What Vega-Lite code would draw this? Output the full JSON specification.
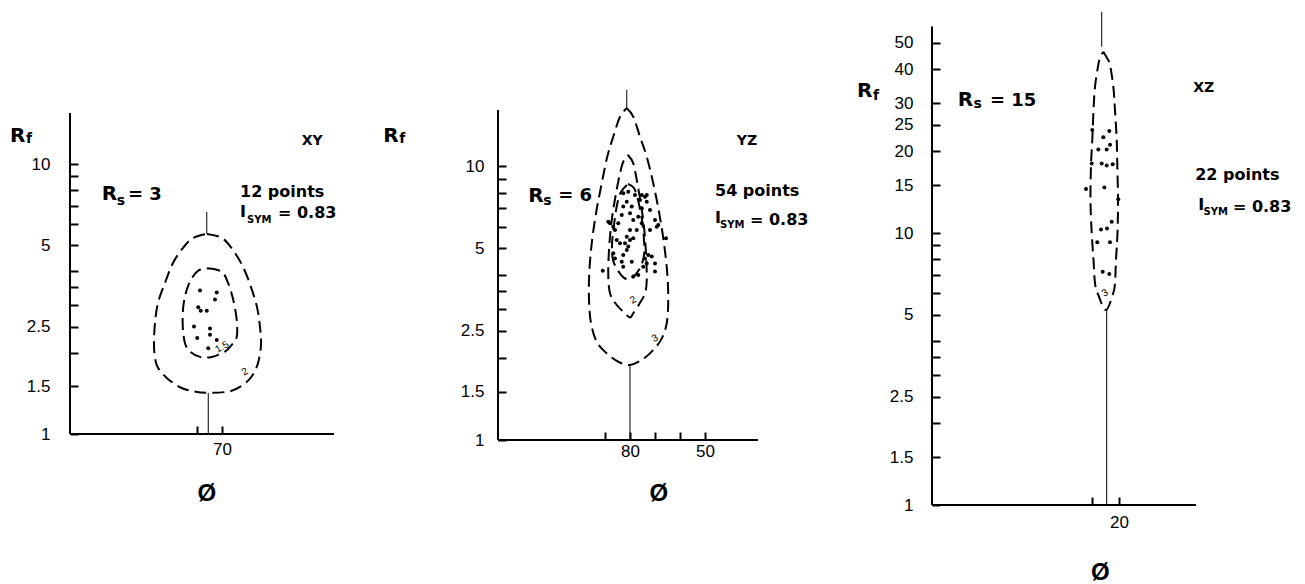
{
"$schema": "https://vega.github.io/schema/vega-lite/v6.json",
"background": "white",
"padding": {"left": 10, "top": 10, "right": 0, "bottom": 0},
"spacing": 0,
"bounds": "flush",
"config": {"view": {"stroke": null}},
"datasets": {
"vaxis": [{"p":1,"phi":130.8,"rf":1,"rf2":15.45},{"p":2,"phi":132.8,"rf":1,"rf2":16.01},{"p":3,"phi":89.26,"rf":1,"rf2":57.4}],
"haxis": [{"p":1,"rf":1,"phi":130.8,"phi2":25.2},{"p":2,"rf":1,"phi":132.8,"phi2":28.8},{"p":3,"rf":1,"phi":89.26,"phi2":-8.52}],
"olines": [{"p":1,"phi":76.1,"rf":5.51,"rf2":6.64},{"p":1,"phi":75.5,"rf":1,"rf2":1.42},{"p":2,"phi":81.3,"rf":16.24,"rf2":18.94},{"p":2,"phi":80.0,"rf":1,"rf2":1.88},{"p":3,"phi":26.4,"rf":48.4,"rf2":65.1},{"p":3,"phi":24.56,"rf":1,"rf2":5.21}],
"contours": [
{"p":1,"c":"a","i":0,"phi":76.0,"rf":5.51},{"p":1,"c":"a","i":1,"phi":70.0,"rf":5.32},{"p":1,"c":"a","i":2,"phi":65.6,"rf":4.80},{"p":1,"c":"a","i":3,"phi":61.6,"rf":4.16},{"p":1,"c":"a","i":4,"phi":58.4,"rf":3.50},{"p":1,"c":"a","i":5,"phi":56.0,"rf":2.95},{"p":1,"c":"a","i":6,"phi":54.8,"rf":2.49},{"p":1,"c":"a","i":7,"phi":54.4,"rf":2.14},{"p":1,"c":"a","i":8,"phi":55.6,"rf":1.83},{"p":1,"c":"a","i":9,"phi":58.0,"rf":1.64},{"p":1,"c":"a","i":10,"phi":61.6,"rf":1.52},{"p":1,"c":"a","i":11,"phi":66.8,"rf":1.44},{"p":1,"c":"a","i":12,"phi":75.6,"rf":1.42},{"p":1,"c":"a","i":13,"phi":81.6,"rf":1.44},{"p":1,"c":"a","i":14,"phi":86.8,"rf":1.49},{"p":1,"c":"a","i":15,"phi":92.0,"rf":1.61},{"p":1,"c":"a","i":16,"phi":95.6,"rf":1.76},{"p":1,"c":"a","i":17,"phi":96.8,"rf":1.91},{"p":1,"c":"a","i":18,"phi":97.2,"rf":2.17},{"p":1,"c":"a","i":19,"phi":96.8,"rf":2.58},{"p":1,"c":"a","i":20,"phi":95.6,"rf":3.06},{"p":1,"c":"a","i":21,"phi":92.8,"rf":3.63},{"p":1,"c":"a","i":22,"phi":89.6,"rf":4.30},{"p":1,"c":"a","i":23,"phi":85.6,"rf":4.89},{"p":1,"c":"a","i":24,"phi":81.6,"rf":5.32},{"p":1,"c":"a","i":25,"phi":76.0,"rf":5.51},
{"p":1,"c":"b","i":0,"phi":75.5,"rf":4.11},{"p":1,"c":"b","i":1,"phi":70.1,"rf":3.99},{"p":1,"c":"b","i":2,"phi":67.5,"rf":3.61},{"p":1,"c":"b","i":3,"phi":65.5,"rf":3.14},{"p":1,"c":"b","i":4,"phi":64.1,"rf":2.64},{"p":1,"c":"b","i":5,"phi":64.1,"rf":2.29},{"p":1,"c":"b","i":6,"phi":66.1,"rf":2.14},{"p":1,"c":"b","i":7,"phi":68.8,"rf":2.02},{"p":1,"c":"b","i":8,"phi":74.1,"rf":1.93},{"p":1,"c":"b","i":9,"phi":78.8,"rf":1.93},{"p":1,"c":"b","i":10,"phi":82.8,"rf":2.02},{"p":1,"c":"b","i":11,"phi":84.8,"rf":2.17},{"p":1,"c":"b","i":12,"phi":85.7,"rf":2.50},{"p":1,"c":"b","i":13,"phi":85.5,"rf":2.96},{"p":1,"c":"b","i":14,"phi":84.1,"rf":3.42},{"p":1,"c":"b","i":15,"phi":82.1,"rf":3.77},{"p":1,"c":"b","i":16,"phi":79.5,"rf":4.03},{"p":1,"c":"b","i":17,"phi":75.5,"rf":4.11},
{"p":2,"c":"a","i":0,"phi":81.3,"rf":16.24},{"p":2,"c":"a","i":1,"phi":78.7,"rf":15.13},{"p":2,"c":"a","i":2,"phi":76.0,"rf":12.79},{"p":2,"c":"a","i":3,"phi":73.3,"rf":10.81},{"p":2,"c":"a","i":4,"phi":70.7,"rf":8.65},{"p":2,"c":"a","i":5,"phi":68.3,"rf":6.72},{"p":2,"c":"a","i":6,"phi":66.4,"rf":5.22},{"p":2,"c":"a","i":7,"phi":65.1,"rf":4.06},{"p":2,"c":"a","i":8,"phi":64.7,"rf":3.24},{"p":2,"c":"a","i":9,"phi":65.3,"rf":2.67},{"p":2,"c":"a","i":10,"phi":67.3,"rf":2.35},{"p":2,"c":"a","i":11,"phi":70.7,"rf":2.13},{"p":2,"c":"a","i":12,"phi":75.3,"rf":1.96},{"p":2,"c":"a","i":13,"phi":80.0,"rf":1.88},{"p":2,"c":"a","i":14,"phi":84.7,"rf":1.93},{"p":2,"c":"a","i":15,"phi":89.3,"rf":2.07},{"p":2,"c":"a","i":16,"phi":93.3,"rf":2.28},{"p":2,"c":"a","i":17,"phi":95.6,"rf":2.67},{"p":2,"c":"a","i":18,"phi":96.4,"rf":3.24},{"p":2,"c":"a","i":19,"phi":96.3,"rf":4.06},{"p":2,"c":"a","i":20,"phi":95.3,"rf":5.22},{"p":2,"c":"a","i":21,"phi":93.6,"rf":6.72},{"p":2,"c":"a","i":22,"phi":91.3,"rf":8.65},{"p":2,"c":"a","i":23,"phi":89.1,"rf":10.81},{"p":2,"c":"a","i":24,"phi":86.7,"rf":12.79},{"p":2,"c":"a","i":25,"phi":84.0,"rf":15.13},{"p":2,"c":"a","i":26,"phi":81.3,"rf":16.24},
{"p":2,"c":"b","i":0,"phi":80.8,"rf":10.97},{"p":2,"c":"b","i":1,"phi":78.7,"rf":10.23},{"p":2,"c":"b","i":2,"phi":77.3,"rf":8.89},{"p":2,"c":"b","i":3,"phi":75.7,"rf":7.31},{"p":2,"c":"b","i":4,"phi":74.4,"rf":6.00},{"p":2,"c":"b","i":5,"phi":73.6,"rf":4.80},{"p":2,"c":"b","i":6,"phi":73.3,"rf":3.84},{"p":2,"c":"b","i":7,"phi":74.0,"rf":3.43},{"p":2,"c":"b","i":8,"phi":76.0,"rf":3.17},{"p":2,"c":"b","i":9,"phi":78.7,"rf":2.90},{"p":2,"c":"b","i":10,"phi":80.0,"rf":2.80},{"p":2,"c":"b","i":11,"phi":82.0,"rf":2.90},{"p":2,"c":"b","i":12,"phi":85.3,"rf":3.11},{"p":2,"c":"b","i":13,"phi":88.0,"rf":3.43},{"p":2,"c":"b","i":14,"phi":88.7,"rf":4.06},{"p":2,"c":"b","i":15,"phi":88.3,"rf":5.08},{"p":2,"c":"b","i":16,"phi":87.3,"rf":6.35},{"p":2,"c":"b","i":17,"phi":85.6,"rf":7.95},{"p":2,"c":"b","i":18,"phi":84.0,"rf":9.40},{"p":2,"c":"b","i":19,"phi":82.7,"rf":10.37},{"p":2,"c":"b","i":20,"phi":80.8,"rf":10.97},
{"p":2,"c":"c","i":0,"phi":80.8,"rf":8.60},{"p":2,"c":"c","i":1,"phi":78.4,"rf":8.31},{"p":2,"c":"c","i":2,"phi":76.8,"rf":7.51},{"p":2,"c":"c","i":3,"phi":75.2,"rf":6.35},{"p":2,"c":"c","i":4,"phi":74.4,"rf":5.37},{"p":2,"c":"c","i":5,"phi":74.4,"rf":4.73},{"p":2,"c":"c","i":6,"phi":76.0,"rf":4.24},{"p":2,"c":"c","i":7,"phi":79.2,"rf":3.90},{"p":2,"c":"c","i":8,"phi":81.6,"rf":3.87},{"p":2,"c":"c","i":9,"phi":84.4,"rf":4.10},{"p":2,"c":"c","i":10,"phi":86.8,"rf":4.54},{"p":2,"c":"c","i":11,"phi":87.2,"rf":5.15},{"p":2,"c":"c","i":12,"phi":86.4,"rf":6.09},{"p":2,"c":"c","i":13,"phi":85.2,"rf":7.21},{"p":2,"c":"c","i":14,"phi":83.6,"rf":8.04},{"p":2,"c":"c","i":15,"phi":80.8,"rf":8.60},
{"p":3,"c":"a","i":0,"phi":25.81,"rf":46.4},{"p":3,"c":"a","i":1,"phi":24.44,"rf":44.0},{"p":3,"c":"a","i":2,"phi":23.33,"rf":41.5},{"p":3,"c":"a","i":3,"phi":22.11,"rf":34.5},{"p":3,"c":"a","i":4,"phi":21.48,"rf":28.3},{"p":3,"c":"a","i":5,"phi":20.85,"rf":22.0},{"p":3,"c":"a","i":6,"phi":20.63,"rf":17.8},{"p":3,"c":"a","i":7,"phi":20.37,"rf":13.2},{"p":3,"c":"a","i":8,"phi":20.56,"rf":10.0},{"p":3,"c":"a","i":9,"phi":21.11,"rf":7.96},{"p":3,"c":"a","i":10,"phi":21.48,"rf":6.55},{"p":3,"c":"a","i":11,"phi":22.11,"rf":6.02},{"p":3,"c":"a","i":12,"phi":24.81,"rf":5.21},{"p":3,"c":"a","i":13,"phi":27.67,"rf":5.92},{"p":3,"c":"a","i":14,"phi":28.89,"rf":6.55},{"p":3,"c":"a","i":15,"phi":29.44,"rf":7.96},{"p":3,"c":"a","i":16,"phi":30.11,"rf":10.0},{"p":3,"c":"a","i":17,"phi":30.56,"rf":13.2},{"p":3,"c":"a","i":18,"phi":30.37,"rf":17.8},{"p":3,"c":"a","i":19,"phi":29.89,"rf":22.0},{"p":3,"c":"a","i":20,"phi":29.44,"rf":28.3},{"p":3,"c":"a","i":21,"phi":28.89,"rf":34.5},{"p":3,"c":"a","i":22,"phi":27.67,"rf":41.5},{"p":3,"c":"a","i":23,"phi":27.04,"rf":44.0},{"p":3,"c":"a","i":24,"phi":25.81,"rf":46.4}
],
"points": [
{"p":1,"phi":78.8,"rf":3.40},{"p":1,"phi":72.1,"rf":3.34},{"p":1,"phi":72.8,"rf":3.15},{"p":1,"phi":79.5,"rf":2.95},{"p":1,"phi":78.5,"rf":2.86},{"p":1,"phi":76.1,"rf":2.86},{"p":1,"phi":81.2,"rf":2.50},{"p":1,"phi":74.8,"rf":2.46},{"p":1,"phi":79.9,"rf":2.27},{"p":1,"phi":74.8,"rf":2.33},{"p":1,"phi":72.1,"rf":2.23},{"p":1,"phi":75.5,"rf":2.08},
{"p":2,"phi":90.9,"rf":4.15},{"p":2,"phi":65.6,"rf":5.45},{"p":2,"phi":70.0,"rf":4.41},{"p":2,"phi":70.0,"rf":4.12},{"p":2,"phi":72.7,"rf":4.73},{"p":2,"phi":74.0,"rf":4.60},{"p":2,"phi":74.7,"rf":4.29},{"p":2,"phi":76.7,"rf":4.00},{"p":2,"phi":78.7,"rf":3.95},{"p":2,"phi":82.7,"rf":4.29},{"p":2,"phi":83.3,"rf":4.47},{"p":2,"phi":82.7,"rf":4.73},{"p":2,"phi":81.3,"rf":4.94},{"p":2,"phi":80.7,"rf":5.08},{"p":2,"phi":82.0,"rf":5.22},{"p":2,"phi":80.0,"rf":5.37},{"p":2,"phi":78.7,"rf":5.45},{"p":2,"phi":81.3,"rf":5.52},{"p":2,"phi":86.0,"rf":5.84},{"p":2,"phi":86.7,"rf":6.00},{"p":2,"phi":88.7,"rf":6.26},{"p":2,"phi":88.0,"rf":6.18},{"p":2,"phi":84.7,"rf":6.18},{"p":2,"phi":83.3,"rf":6.63},{"p":2,"phi":82.7,"rf":7.11},{"p":2,"phi":80.0,"rf":6.72},{"p":2,"phi":79.3,"rf":7.11},{"p":2,"phi":81.3,"rf":7.41},{"p":2,"phi":82.7,"rf":7.95},{"p":2,"phi":80.7,"rf":8.06},{"p":2,"phi":76.0,"rf":7.51},{"p":2,"phi":75.3,"rf":7.84},{"p":2,"phi":74.0,"rf":7.73},{"p":2,"phi":73.3,"rf":7.41},{"p":2,"phi":72.0,"rf":6.91},{"p":2,"phi":75.3,"rf":7.01},{"p":2,"phi":76.7,"rf":6.53},{"p":2,"phi":78.7,"rf":6.35},{"p":2,"phi":77.3,"rf":5.84},{"p":2,"phi":80.0,"rf":5.84},{"p":2,"phi":72.0,"rf":5.84},{"p":2,"phi":69.3,"rf":6.00},{"p":2,"phi":70.0,"rf":6.35},{"p":2,"phi":84.0,"rf":5.22},{"p":2,"phi":85.3,"rf":5.37},{"p":2,"phi":86.7,"rf":4.80},{"p":2,"phi":86.0,"rf":4.60},{"p":2,"phi":68.7,"rf":6.09},{"p":2,"phi":78.0,"rf":7.84},{"p":2,"phi":73.3,"rf":7.84},{"p":2,"phi":75.3,"rf":6.18},{"p":2,"phi":79.3,"rf":4.47},{"p":2,"phi":73.3,"rf":4.41},{"p":2,"phi":71.3,"rf":4.67},
{"p":3,"phi":29.89,"rf":23.9},{"p":3,"phi":23.59,"rf":23.7},{"p":3,"phi":25.81,"rf":22.5},{"p":3,"phi":23.33,"rf":21.1},{"p":3,"phi":27.67,"rf":20.3},{"p":3,"phi":24.56,"rf":20.3},{"p":3,"phi":30.11,"rf":18.0},{"p":3,"phi":26.41,"rf":18.0},{"p":3,"phi":24.56,"rf":17.7},{"p":3,"phi":22.33,"rf":17.9},{"p":3,"phi":32.22,"rf":14.5},{"p":3,"phi":25.44,"rf":14.7},{"p":3,"phi":20.26,"rf":13.3},{"p":3,"phi":26.67,"rf":10.3},{"p":3,"phi":24.44,"rf":10.4},{"p":3,"phi":22.70,"rf":11.0},{"p":3,"phi":28.04,"rf":9.24},{"p":3,"phi":23.33,"rf":9.24},{"p":3,"phi":26.04,"rf":7.21},{"p":3,"phi":23.59,"rf":7.07}
],
"txt": [
{"p":1,"part":"R","phi":154.8,"rf":12.09,"t":"R"},{"p":1,"part":"R","phi":118.1,"rf":7.36,"t":"R"},
{"p":2,"part":"R","phi":178.7,"rf":12.27,"t":"R"},{"p":2,"part":"R","phi":120.7,"rf":7.41,"t":"R"},
{"p":3,"part":"R","phi":117.0,"rf":31.6,"t":"R"},{"p":3,"part":"R","phi":79.7,"rf":29.3,"t":"R"},
{"p":1,"part":"sub","phi":148.4,"rf":11.93,"t":"f"},{"p":1,"part":"sub","phi":112.1,"rf":7.05,"t":"s"},
{"p":2,"part":"sub","phi":172.3,"rf":12.10,"t":"f"},{"p":2,"part":"sub","phi":114.7,"rf":7.21,"t":"s"},
{"p":3,"part":"sub","phi":111.1,"rf":30.8,"t":"f"},{"p":3,"part":"sub","phi":73.9,"rf":28.7,"t":"s"},
{"p":1,"part":"eq","phi":107.6,"rf":7.36,"t":"= 3"},{"p":2,"part":"eq","phi":108.7,"rf":7.47,"t":"= 6"},{"p":3,"part":"eq","phi":67.8,"rf":29.3,"t":"= 15"},
{"p":1,"part":"plane","phi":38.1,"rf":11.76,"t":"XY"},{"p":2,"part":"plane","phi":37.3,"rf":11.93,"t":"YZ"},{"p":3,"part":"plane","phi":-7.5,"rf":33.0,"t":"XZ"},
{"p":1,"part":"info","phi":62.8,"rf":7.55,"t":"12 points"},{"p":1,"part":"info","phi":62.8,"rf":6.35,"t":"I"},{"p":1,"part":"info","phi":47.6,"rf":6.29,"t":"= 0.83"},
{"p":2,"part":"info","phi":46.0,"rf":7.79,"t":"54 points"},{"p":2,"part":"info","phi":46.0,"rf":6.18,"t":"I"},{"p":2,"part":"info","phi":32.0,"rf":6.09,"t":"= 0.83"},
{"p":3,"part":"info","phi":-8.2,"rf":15.66,"t":"22 points"},{"p":3,"part":"info","phi":-9.4,"rf":12.15,"t":"I"},{"p":3,"part":"info","phi":-22.2,"rf":11.97,"t":"= 0.83"},
{"p":1,"part":"subinfo","phi":60.0,"rf":6.03,"t":"SYM"},{"p":2,"part":"subinfo","phi":44.0,"rf":5.92,"t":"SYM"},{"p":3,"part":"subinfo","phi":-11.3,"rf":11.65,"t":"SYM"},
{"p":1,"part":"phi","phi":76.1,"rf":0.565,"t":"Ø"},{"p":2,"part":"phi","phi":68.5,"rf":0.599,"t":"Ø"},{"p":3,"part":"phi","phi":26.9,"rf":0.530,"t":"Ø"},
{"p":1,"part":"clabel","phi":70.0,"rf":2.10,"t":"1.5"},{"p":1,"part":"clabel","phi":60.8,"rf":1.70,"t":"2"},{"p":2,"part":"clabel","phi":78.7,"rf":3.24,"t":"2"},{"p":2,"part":"clabel","phi":70.0,"rf":2.35,"t":"3"},{"p":3,"part":"clabel","phi":25.2,"rf":6.02,"t":"3"}
]
},
"hconcat": [
{
"width": 428, "height": 424,
"encoding": {
"x": {"field": "phi", "type": "quantitative", "scale": {"domain": [-40.4, 130.8], "reverse": true, "nice": false, "zero": false},
 "axis": {"title": null, "domain": false, "grid": false, "values": [80, 70], "labelExpr": "datum.value == 70 ? '70' : ''", "tickSize": -8, "tickWidth": 2, "tickColor": "black", "labelPadding": 15, "labelFont": "Liberation Sans", "labelFontSize": 17, "labelColor": "black", "labelFlush": false, "labelOverlap": false, "labelBound": false}},
"y": {"field": "rf", "type": "quantitative", "scale": {"type": "log", "domain": [1, 37.19], "nice": false},
 "axis": {"title": null, "domain": false, "grid": false, "values": [1,1.5,2,2.5,3,3.5,4,5,6,7,8,9,10], "labelExpr": "indexof([1,1.5,2.5,5,10], datum.value) >= 0 ? format(datum.value, '~g') : ''", "tickSize": -8, "tickWidth": 2, "tickColor": "black", "labelPadding": 28, "labelFont": "Liberation Sans", "labelFontSize": 17, "labelColor": "black", "labelOverlap": false, "labelBound": false, "labelFlush": false}}
},
"layer": [
{"data": {"name": "vaxis"}, "transform": [{"filter": "datum.p == 1"}], "mark": {"type": "rule", "strokeWidth": 2, "color": "black"}, "encoding": {"y2": {"field": "rf2"}}},
{"data": {"name": "haxis"}, "transform": [{"filter": "datum.p == 1"}], "mark": {"type": "rule", "strokeWidth": 2, "color": "black"}, "encoding": {"x2": {"field": "phi2"}}},
{"data": {"name": "olines"}, "transform": [{"filter": "datum.p == 1"}], "mark": {"type": "rule", "strokeWidth": 1, "color": "black"}, "encoding": {"y2": {"field": "rf2"}}},
{"data": {"name": "contours"}, "transform": [{"filter": "datum.p == 1"}], "mark": {"type": "line", "strokeDash": [12, 6], "strokeWidth": 2, "color": "black", "interpolate": "cardinal"}, "encoding": {"detail": {"field": "c"}, "order": {"field": "i", "type": "quantitative"}}},
{"data": {"name": "points"}, "transform": [{"filter": "datum.p == 1"}], "mark": {"type": "circle", "size": 16, "color": "black", "opacity": 1}},
{"data": {"name": "txt"}, "transform": [{"filter": "datum.p == 1 && datum.part == 'R'"}], "mark": {"type": "text", "align": "left", "baseline": "alphabetic", "font": "DejaVu Sans", "fontWeight": "bold", "fontSize": 20, "color": "black"}, "encoding": {"text": {"field": "t"}}},
{"data": {"name": "txt"}, "transform": [{"filter": "datum.p == 1 && datum.part == 'sub'"}], "mark": {"type": "text", "align": "left", "baseline": "alphabetic", "font": "DejaVu Sans", "fontWeight": "bold", "fontSize": 14, "color": "black"}, "encoding": {"text": {"field": "t"}}},
{"data": {"name": "txt"}, "transform": [{"filter": "datum.p == 1 && datum.part == 'eq'"}], "mark": {"type": "text", "align": "left", "baseline": "alphabetic", "font": "DejaVu Sans", "fontWeight": "bold", "fontSize": 18, "color": "black"}, "encoding": {"text": {"field": "t"}}},
{"data": {"name": "txt"}, "transform": [{"filter": "datum.p == 1 && datum.part == 'plane'"}], "mark": {"type": "text", "align": "left", "baseline": "alphabetic", "font": "DejaVu Sans", "fontWeight": "bold", "fontSize": 14, "color": "black"}, "encoding": {"text": {"field": "t"}}},
{"data": {"name": "txt"}, "transform": [{"filter": "datum.p == 1 && datum.part == 'info'"}], "mark": {"type": "text", "align": "left", "baseline": "alphabetic", "font": "DejaVu Sans", "fontWeight": "bold", "fontSize": 16, "color": "black"}, "encoding": {"text": {"field": "t"}}},
{"data": {"name": "txt"}, "transform": [{"filter": "datum.p == 1 && datum.part == 'subinfo'"}], "mark": {"type": "text", "align": "left", "baseline": "alphabetic", "font": "DejaVu Sans", "fontWeight": "bold", "fontSize": 10, "color": "black"}, "encoding": {"text": {"field": "t"}}},
{"data": {"name": "txt"}, "transform": [{"filter": "datum.p == 1 && datum.part == 'phi'"}], "mark": {"type": "text", "align": "center", "baseline": "alphabetic", "font": "Liberation Sans", "fontWeight": "bold", "fontSize": 24, "color": "black"}, "encoding": {"text": {"field": "t"}}},
{"data": {"name": "txt"}, "transform": [{"filter": "datum.p == 1 && datum.part == 'clabel'"}], "mark": {"type": "text", "align": "center", "baseline": "middle", "font": "Liberation Sans", "fontSize": 10, "angle": -30, "color": "black"}, "encoding": {"text": {"field": "t"}}}
]
},
{
"width": 434, "height": 430,
"encoding": {
"x": {"field": "phi", "type": "quantitative", "scale": {"domain": [-40.8, 132.8], "reverse": true, "nice": false, "zero": false},
 "axis": {"title": null, "domain": false, "grid": false, "values": [90, 80, 70, 60, 50], "labelExpr": "datum.value == 80 || datum.value == 50 ? format(datum.value, '~g') : ''", "tickSize": -8, "tickWidth": 2, "tickColor": "black", "labelPadding": 11, "labelFont": "Liberation Sans", "labelFontSize": 17, "labelColor": "black", "labelFlush": false, "labelOverlap": false, "labelBound": false}},
"y": {"field": "rf", "type": "quantitative", "scale": {"type": "log", "domain": [1, 37.10], "nice": false},
 "axis": {"title": null, "domain": false, "grid": false, "values": [1,1.5,2,2.5,3,3.5,4,5,6,7,8,9,10], "labelExpr": "indexof([1,1.5,2.5,5,10], datum.value) >= 0 ? format(datum.value, '~g') : ''", "tickSize": -8, "tickWidth": 2, "tickColor": "black", "labelPadding": 22, "labelFont": "Liberation Sans", "labelFontSize": 17, "labelColor": "black", "labelOverlap": false, "labelBound": false, "labelFlush": false}}
},
"layer": [
{"data": {"name": "vaxis"}, "transform": [{"filter": "datum.p == 2"}], "mark": {"type": "rule", "strokeWidth": 2, "color": "black"}, "encoding": {"y2": {"field": "rf2"}}},
{"data": {"name": "haxis"}, "transform": [{"filter": "datum.p == 2"}], "mark": {"type": "rule", "strokeWidth": 2, "color": "black"}, "encoding": {"x2": {"field": "phi2"}}},
{"data": {"name": "olines"}, "transform": [{"filter": "datum.p == 2"}], "mark": {"type": "rule", "strokeWidth": 1, "color": "black"}, "encoding": {"y2": {"field": "rf2"}}},
{"data": {"name": "contours"}, "transform": [{"filter": "datum.p == 2"}], "mark": {"type": "line", "strokeDash": [12, 6], "strokeWidth": 2, "color": "black", "interpolate": "cardinal"}, "encoding": {"detail": {"field": "c"}, "order": {"field": "i", "type": "quantitative"}}},
{"data": {"name": "points"}, "transform": [{"filter": "datum.p == 2"}], "mark": {"type": "circle", "size": 16, "color": "black", "opacity": 1}},
{"data": {"name": "txt"}, "transform": [{"filter": "datum.p == 2 && datum.part == 'R'"}], "mark": {"type": "text", "align": "left", "baseline": "alphabetic", "font": "DejaVu Sans", "fontWeight": "bold", "fontSize": 20, "color": "black"}, "encoding": {"text": {"field": "t"}}},
{"data": {"name": "txt"}, "transform": [{"filter": "datum.p == 2 && datum.part == 'sub'"}], "mark": {"type": "text", "align": "left", "baseline": "alphabetic", "font": "DejaVu Sans", "fontWeight": "bold", "fontSize": 14, "color": "black"}, "encoding": {"text": {"field": "t"}}},
{"data": {"name": "txt"}, "transform": [{"filter": "datum.p == 2 && datum.part == 'eq'"}], "mark": {"type": "text", "align": "left", "baseline": "alphabetic", "font": "DejaVu Sans", "fontWeight": "bold", "fontSize": 18, "color": "black"}, "encoding": {"text": {"field": "t"}}},
{"data": {"name": "txt"}, "transform": [{"filter": "datum.p == 2 && datum.part == 'plane'"}], "mark": {"type": "text", "align": "left", "baseline": "alphabetic", "font": "DejaVu Sans", "fontWeight": "bold", "fontSize": 14, "color": "black"}, "encoding": {"text": {"field": "t"}}},
{"data": {"name": "txt"}, "transform": [{"filter": "datum.p == 2 && datum.part == 'info'"}], "mark": {"type": "text", "align": "left", "baseline": "alphabetic", "font": "DejaVu Sans", "fontWeight": "bold", "fontSize": 16, "color": "black"}, "encoding": {"text": {"field": "t"}}},
{"data": {"name": "txt"}, "transform": [{"filter": "datum.p == 2 && datum.part == 'subinfo'"}], "mark": {"type": "text", "align": "left", "baseline": "alphabetic", "font": "DejaVu Sans", "fontWeight": "bold", "fontSize": 10, "color": "black"}, "encoding": {"text": {"field": "t"}}},
{"data": {"name": "txt"}, "transform": [{"filter": "datum.p == 2 && datum.part == 'phi'"}], "mark": {"type": "text", "align": "center", "baseline": "alphabetic", "font": "Liberation Sans", "fontWeight": "bold", "fontSize": 24, "color": "black"}, "encoding": {"text": {"field": "t"}}},
{"data": {"name": "txt"}, "transform": [{"filter": "datum.p == 2 && datum.part == 'clabel'"}], "mark": {"type": "text", "align": "center", "baseline": "middle", "font": "Liberation Sans", "fontSize": 10, "angle": -30, "color": "black"}, "encoding": {"text": {"field": "t"}}}
]
},
{
"width": 368, "height": 495,
"encoding": {
"x": {"field": "phi", "type": "quantitative", "scale": {"domain": [-47.04, 89.26], "reverse": true, "nice": false, "zero": false},
 "axis": {"title": null, "domain": false, "grid": false, "values": [30, 20], "labelExpr": "datum.value == 20 ? '20' : ''", "tickSize": -8, "tickWidth": 2, "tickColor": "black", "labelPadding": 17, "labelFont": "Liberation Sans", "labelFontSize": 17, "labelColor": "black", "labelFlush": false, "labelOverlap": false, "labelBound": false}},
"y": {"field": "rf", "type": "quantitative", "scale": {"type": "log", "domain": [1, 66.06], "nice": false},
 "axis": {"title": null, "domain": false, "grid": false, "values": [1,1.5,2,2.5,3,3.5,4,5,6,7,8,9,10,15,20,25,30,40,50], "labelExpr": "indexof([1,1.5,2.5,5,10,15,20,25,30,40,50], datum.value) >= 0 ? format(datum.value, '~g') : ''", "tickSize": -8, "tickWidth": 2, "tickColor": "black", "labelPadding": 27, "labelFont": "Liberation Sans", "labelFontSize": 17, "labelColor": "black", "labelOverlap": false, "labelBound": false, "labelFlush": false}}
},
"layer": [
{"data": {"name": "vaxis"}, "transform": [{"filter": "datum.p == 3"}], "mark": {"type": "rule", "strokeWidth": 2, "color": "black"}, "encoding": {"y2": {"field": "rf2"}}},
{"data": {"name": "haxis"}, "transform": [{"filter": "datum.p == 3"}], "mark": {"type": "rule", "strokeWidth": 2, "color": "black"}, "encoding": {"x2": {"field": "phi2"}}},
{"data": {"name": "olines"}, "transform": [{"filter": "datum.p == 3"}], "mark": {"type": "rule", "strokeWidth": 1, "color": "black"}, "encoding": {"y2": {"field": "rf2"}}},
{"data": {"name": "contours"}, "transform": [{"filter": "datum.p == 3"}], "mark": {"type": "line", "strokeDash": [12, 6], "strokeWidth": 2, "color": "black", "interpolate": "cardinal"}, "encoding": {"detail": {"field": "c"}, "order": {"field": "i", "type": "quantitative"}}},
{"data": {"name": "points"}, "transform": [{"filter": "datum.p == 3"}], "mark": {"type": "circle", "size": 16, "color": "black", "opacity": 1}},
{"data": {"name": "txt"}, "transform": [{"filter": "datum.p == 3 && datum.part == 'R'"}], "mark": {"type": "text", "align": "left", "baseline": "alphabetic", "font": "DejaVu Sans", "fontWeight": "bold", "fontSize": 20, "color": "black"}, "encoding": {"text": {"field": "t"}}},
{"data": {"name": "txt"}, "transform": [{"filter": "datum.p == 3 && datum.part == 'sub'"}], "mark": {"type": "text", "align": "left", "baseline": "alphabetic", "font": "DejaVu Sans", "fontWeight": "bold", "fontSize": 14, "color": "black"}, "encoding": {"text": {"field": "t"}}},
{"data": {"name": "txt"}, "transform": [{"filter": "datum.p == 3 && datum.part == 'eq'"}], "mark": {"type": "text", "align": "left", "baseline": "alphabetic", "font": "DejaVu Sans", "fontWeight": "bold", "fontSize": 18, "color": "black"}, "encoding": {"text": {"field": "t"}}},
{"data": {"name": "txt"}, "transform": [{"filter": "datum.p == 3 && datum.part == 'plane'"}], "mark": {"type": "text", "align": "left", "baseline": "alphabetic", "font": "DejaVu Sans", "fontWeight": "bold", "fontSize": 14, "color": "black"}, "encoding": {"text": {"field": "t"}}},
{"data": {"name": "txt"}, "transform": [{"filter": "datum.p == 3 && datum.part == 'info'"}], "mark": {"type": "text", "align": "left", "baseline": "alphabetic", "font": "DejaVu Sans", "fontWeight": "bold", "fontSize": 16, "color": "black"}, "encoding": {"text": {"field": "t"}}},
{"data": {"name": "txt"}, "transform": [{"filter": "datum.p == 3 && datum.part == 'subinfo'"}], "mark": {"type": "text", "align": "left", "baseline": "alphabetic", "font": "DejaVu Sans", "fontWeight": "bold", "fontSize": 10, "color": "black"}, "encoding": {"text": {"field": "t"}}},
{"data": {"name": "txt"}, "transform": [{"filter": "datum.p == 3 && datum.part == 'phi'"}], "mark": {"type": "text", "align": "center", "baseline": "alphabetic", "font": "Liberation Sans", "fontWeight": "bold", "fontSize": 24, "color": "black"}, "encoding": {"text": {"field": "t"}}},
{"data": {"name": "txt"}, "transform": [{"filter": "datum.p == 3 && datum.part == 'clabel'"}], "mark": {"type": "text", "align": "center", "baseline": "middle", "font": "Liberation Sans", "fontSize": 10, "angle": -30, "color": "black"}, "encoding": {"text": {"field": "t"}}}
]
}
]
}
